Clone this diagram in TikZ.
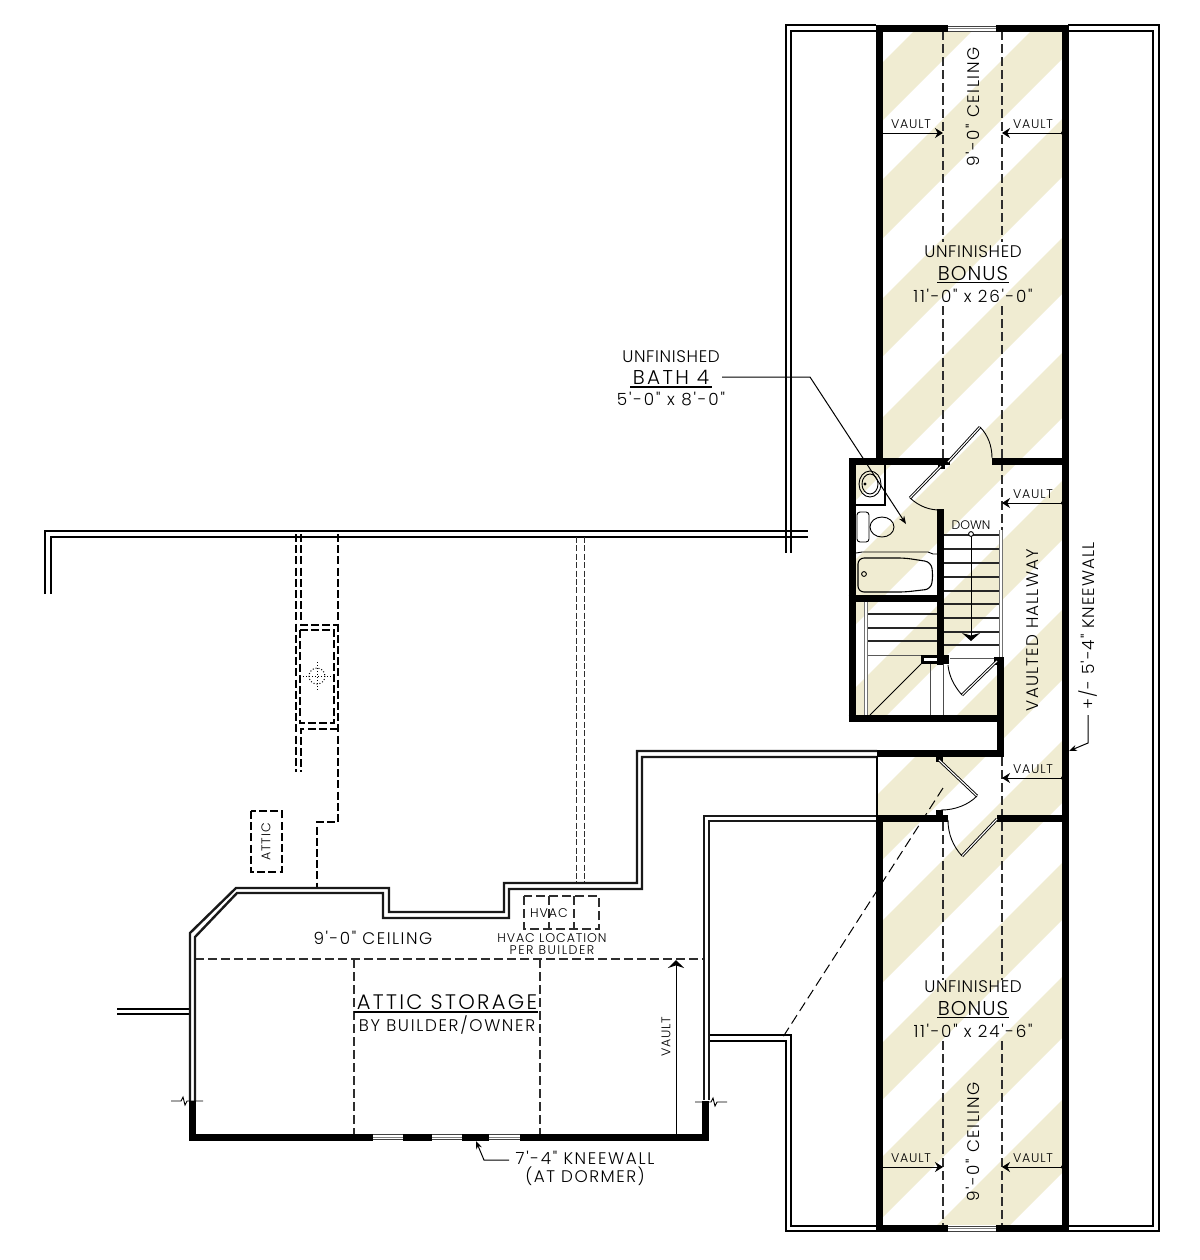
\documentclass[tikz,border=0pt]{standalone}
\usepackage{fontspec}
\usetikzlibrary{arrows.meta}
\newfontfamily\lblfont{Poppins}[UprightFont=* Light]
\definecolor{cream}{HTML}{F0ECD2}
\definecolor{dashc}{HTML}{2E2E2E}
\newcommand{\lbl}[2]{\lblfont\fontsize{#1}{#1}\selectfont\addfontfeature{LetterSpace=#2}}
\tikzset{
 wall/.style={line width=3.5pt,black,line join=miter},
 dwall/.style={line width=1.2pt,black!90,line join=miter},
 roofline/.style={line width=1.15pt,black,line join=miter},
 dashln/.style={line width=.7pt,dashc,dash pattern=on 4.5pt off 2pt},
 diagdash/.style={line width=.5pt,black,dash pattern=on 5pt off 2.5pt},
 heavydash/.style={line width=1.25pt,black,dash pattern=on 4pt off 1.6pt},
 thindbl/.style={line width=.45pt,dashc,dash pattern=on 3pt off 1.2pt},
 dimln/.style={line width=.5pt,black,-{Stealth[length=4pt,width=5pt]}},
 leaf/.style={double=white,double distance=.55pt,line width=.45pt,black},
 rail/.style={double=white,double distance=.8pt,line width=.4pt,black!55},
 fine/.style={line width=.45pt,black},
 tread/.style={line width=.55pt,black!85},
 blk/.style={fill=black,draw=none},
 tx/.style 2 args={inner sep=0pt,font=\lbl{#1}{#2}},
 ul/.style={line width=.55pt,black},
}
\newcommand{\vaultarr}[4]{% name, x1, x2, y
 \coordinate (#1a) at (#2,#4); \coordinate (#1b) at (#3,#4);
 \draw[dimln] (#1a) -- (#1b); \fill (#1a) circle (1pt);}
\newcommand{\winh}[3]{% x1 x2 y
 \fill[white] (#1,#3-3.5) rectangle (#2,#3+3.5);
 \draw[line width=.45pt,black!75] (#1,#3-2.5) -- (#2,#3-2.5) (#1,#3+2.5) -- (#2,#3+2.5);
 \draw[line width=.3pt,black!50] (#1,#3) -- (#2,#3);}
\begin{document}
\begin{tikzpicture}[x=.5pt,y=-.5pt]
\useasboundingbox (0,0) rectangle (1200,1260);
\fill[white] (0,0) rectangle (1200,1260);
% ---- stripes
\begin{scope}
 \clip (883,31) -- (1062,31) -- (1062,1225) -- (883,1225) -- (883,815) -- (877,815) -- (877,757) -- (1004,757) -- (1004,715) -- (852,715) -- (852,461) -- (883,461) -- cycle;
 \foreach \a/\b in {945/1003,1062/1121,1181/1239,1300/1356,1415/1480,1543/1602,1672/1742,1803/1865,1925/1982,2039/2100,2162/2235}
  \fill[cream] (800,{\a-800}) -- (1100,{\a-1100}) -- (1100,{\b-1100}) -- (800,{\b-800}) -- cycle;
\end{scope}
% ---- roof lines
\draw[roofline] (876,25) -- (786,25) -- (786,553);
\draw[roofline] (876,31) -- (791,31) -- (791,553);
\draw[roofline] (1068,25) -- (1159,25) -- (1159,1231) -- (1068,1231);
\draw[roofline] (1068,31) -- (1153,31) -- (1153,1226) -- (1068,1226);
\draw[roofline] (45,594) -- (45,531) -- (808,531);
\draw[roofline] (51,594) -- (51,537) -- (808,537);
\draw[roofline] (708,1035) -- (791,1035) -- (791,1226) -- (880,1226);
\draw[roofline] (708,1041) -- (786,1041) -- (786,1231) -- (880,1231);
\draw[roofline] (117,1009) -- (190,1009);
\draw[roofline] (117,1014) -- (190,1014);
% ---- dashed structure, upper left
\draw[heavydash] (296,534) -- (296,772);
\draw[heavydash] (301,534) -- (301,625) -- (338,625);
\draw[heavydash] (338,534) -- (338,822) -- (317,822) -- (317,887);
\draw[heavydash] (300,630) rectangle (334,723);
\draw[heavydash] (338,729) -- (301,729) -- (301,772);
\draw[line width=.5pt,densely dotted] (317,676) circle (8);
\draw[line width=.5pt,densely dotted] (303,676) -- (331,676) (317,662) -- (317,690);
\draw[heavydash] (251,811) rectangle (282,872);
\node[tx={6.3}{8},rotate=90] (atticbox) at (266,842) {ATTIC};
\draw[thindbl] (576,537) -- (576,883);
\draw[thindbl] (584,537) -- (584,883);
% ---- dashed ceiling lines
\draw[dashln] (943,31) -- (943,242) (943,306) -- (943,458);
\draw[dashln] (1002,31) -- (1002,242) (1002,306) -- (1002,530);
\draw[dashln] (1002,757) -- (1002,980) (1002,1041) -- (1002,1225);
\draw[dashln] (943,822) -- (943,980) (943,1041) -- (943,1225);
\draw[dashln] (195,959) -- (703,959);
\draw[dashln] (354,959) -- (354,1134);
\draw[dashln] (540,959) -- (540,1134);
\draw[diagdash] (943,788) -- (781,1040);
% ---- attic walls
\draw[dwall] (190,1101) -- (190,933) -- (236,888) -- (389,888) -- (389,912) -- (504,912) -- (504,883) -- (637,883) -- (637,751) -- (877,751);
\draw[dwall] (195,1101) -- (195,937) -- (237,893) -- (383,893) -- (383,918) -- (509,918) -- (509,889) -- (642,889) -- (642,757) -- (877,757);
\draw[dwall] (877,816) -- (704,816) -- (704,1100);
\draw[dwall] (877,821) -- (709,821) -- (709,1100);
\draw[wall] (192.5,1101) -- (192.5,1137) -- (705.5,1137) -- (705.5,1101);
\winh{373}{403}{1137}\winh{432}{462}{1137}\winh{489}{520}{1137}
\draw[fine] (171,1101) -- (181,1101) -- (183,1097) -- (185,1105) -- (187,1101) -- (203,1101);
\draw[fine] (695,1102) -- (711,1102) -- (713,1098) -- (715,1106) -- (717,1102) -- (727,1102);
% HVAC
\draw[dashln,line width=.6pt] (524,896) rectangle (599,929);
\draw[dashln,line width=.6pt] (549,896) -- (549,929) (574,896) -- (574,929);
\node[tx={6.3}{8}] (hvac) at (549,913) {HVAC};
\node[tx={6.3}{7}] (hvacloc) at (552,938) {HVAC LOCATION};
\node[tx={6.3}{12}] (hvacper) at (552,950) {PER BUILDER};
% ---- main walls
\draw[wall] (879.5,25) -- (879.5,458);
\draw[wall] (1065,25) -- (1065,1232);
\draw[wall] (876,28.5) -- (948,28.5);
\draw[wall] (996,28.5) -- (1068,28.5);
\winh{948}{996}{28.5}
\draw[wall] (876,1228.5) -- (948,1228.5);
\draw[wall] (996,1228.5) -- (1068,1228.5);
\winh{948}{996}{1228.5}
\draw[wall] (879.5,815) -- (879.5,1232);
\draw[wall] (877,818.5) -- (948,818.5);
\draw[wall] (997,818.5) -- (1065,818.5);
% bath & stairs
\draw[wall] (950,461.5) -- (848.5,461.5);
\draw[wall] (992,461.5) -- (1065,461.5);
\draw[wall] (852,458) -- (852,722);
\draw[wall] (848.5,718.5) -- (1004,718.5);
\draw[wall] (1000.5,657) -- (1000.5,757);
\draw[wall] (877,753) -- (1004,753);
\draw[line width=.7pt,black] (877,756) -- (877,815);
\draw[wall] (940.5,509) -- (940.5,665);
\draw[wall] (848.5,598) -- (944,598);
\draw[line width=1pt] (856,505) -- (885,505) -- (885,465);
% sink
\draw[fine] (870,484) ellipse (11 and 13);
\draw[fine] (870,484) ellipse (8 and 10);
\fill (865,484) circle (.8pt);
% toilet
\draw[fine,rounded corners=1.5pt] (857,512) rectangle (869,542);
\draw[fine] (882,527) ellipse (12 and 10);
% tub
\draw[fine] (856,553) -- (862,552) -- (928,552) -- (933,554) -- (938,554);
\draw[fine,line width=.55pt,rounded corners=3pt] (858,558) -- (905,558) -- (931,562) -- (933,575) -- (931,589) -- (905,592) -- (858,592) -- cycle;
\draw[fine] (864,574) circle (1.2pt);
% doors
\fill[blk] (938,462) rectangle (945,469);
\draw[leaf] (941,466) -- (910,498);
\draw[fine] (910,498) .. controls (920,507) and (930,510) .. (940,510);
\draw[leaf] (948,462) -- (980,427);
\draw[fine] (980,427) .. controls (988,435) and (992,446) .. (992,458);
\fill[blk] (994,657) rectangle (1001,665);
\draw[leaf] (997,661) -- (962,695);
\draw[fine] (962,695) .. controls (954,686) and (949,676) .. (948,665);
\fill[blk] (936,755) rectangle (943,762);
\fill[blk] (936,810) rectangle (943,816);
\draw[leaf] (939,760) -- (977,796);
\draw[fine] (977,796) .. controls (968,805) and (955,810) .. (941,810);
\draw[leaf] (997,819) -- (962,856);
\draw[fine] (962,856) .. controls (953,846) and (948,834) .. (948,820);
% stairs right
\foreach \y in {535,549,563,577,591,604,618,632,645} \draw[tread] (944,\y) -- (1000,\y);
\draw[line width=.45pt,black!65] (950,658) -- (994,658);
\draw[rail] (1001,530) -- (1001,657);
\node[tx={6.2}{0}] (down) at (971,525) {DOWN};
\coordinate (da) at (971,534); \coordinate (db) at (971,641);
\draw[line width=.5pt,-{Stealth[length=4pt,width=9pt]}] (da) -- (db);
\draw[fine,fill=white] (da) circle (1.2pt);
% stairs left
\foreach \y in {614,628,641} \draw[tread] (868,\y) -- (937,\y);
\draw[line width=.45pt,black!65] (866,655) -- (922,655);
\draw[rail] (866,602) -- (866,715);
\draw[line width=.5pt] (870,715) -- (922,663);
\draw[line width=.45pt,black!70] (930,664) -- (930,715) (943,664) -- (943,715);
\fill[blk] (921,655) rectangle (949,664);
\fill[white] (924,658) rectangle (937,661);
% vault arrows
\vaultarr{v1}{881}{943}{133}
\vaultarr{v2}{1063}{1002}{133}
\vaultarr{v3}{1063}{1002}{503}
\vaultarr{v4}{1063}{1002}{778}
\vaultarr{v5}{881}{943}{1167}
\vaultarr{v6}{1063}{1002}{1167}
\coordinate (v7a) at (676,1136); \coordinate (v7b) at (676,960);
\draw[line width=.5pt,-{Stealth[length=4pt,width=8pt]}] (v7a) -- (v7b); \fill (v7a) circle (1pt);
\node[tx={6.3}{6}] (t1) at (911,124) {VAULT};
\node[tx={6.3}{6}] (t2) at (1033,124) {VAULT};
\node[tx={6.3}{6}] (t3) at (1033,494) {VAULT};
\node[tx={6.3}{6}] (t4) at (1033,769) {VAULT};
\node[tx={6.3}{6}] (t5) at (911,1158) {VAULT};
\node[tx={6.3}{6}] (t6) at (1033,1158) {VAULT};
\node[tx={6.3}{6},rotate=90] (t7) at (666,1037) {VAULT};
% labels
\node[tx={8.4}{9},rotate=90] (c1) at (973,107) {9'-0" CEILING};
\node[tx={8.4}{9},rotate=90] (c2) at (973,1142) {9'-0" CEILING};
\node[tx={8.4}{4}] (b1a) at (973,252) {UNFINISHED};
\node[tx={10}{5}] (b1b) at (973,273) {BONUS};
\draw[ul] (937,282.5) -- (1009,282.5);
\node[tx={8.4}{10}] (b1c) at (973,296) {11'-0" x 26'-0"};
\node[tx={8.4}{4}] (b2a) at (973,987) {UNFINISHED};
\node[tx={10}{5}] (b2b) at (973,1008) {BONUS};
\draw[ul] (937,1017.5) -- (1009,1017.5);
\node[tx={8.4}{10}] (b2c) at (973,1031) {11'-0" x 24'-6"};
\node[tx={8.4}{4}] (ba) at (671,357) {UNFINISHED};
\node[tx={10}{12}] (bb) at (671,377) {BATH 4};
\draw[ul] (630,387) -- (712,387);
\node[tx={8.4}{11}] (bc) at (671,399) {5'-0" x 8'-0"};
\coordinate (bl1) at (722,377); \coordinate (bl2) at (810,377); \coordinate (bl3) at (906,524);
\draw[line width=.5pt,-{Stealth[length=4pt,width=3pt]}] (bl1) -- (bl2) -- (bl3);
\node[tx={8.4}{7},rotate=90] (hall) at (1033,630) {VAULTED HALLWAY};
\node[tx={8.4}{6},rotate=90] (knee) at (1088,626) {+/- 5'-4" KNEEWALL};
\coordinate (k1) at (1088,715); \coordinate (k2) at (1088,743); \coordinate (k3) at (1069,751);
\draw[line width=.5pt,-{Stealth[length=4pt,width=3pt]}] (k1) -- (k2) -- (k3);
\node[tx={8.4}{9}] (ceil) at (373,938) {9'-0" CEILING};
\node[tx={10.5}{11}] (as) at (447,1002) {ATTIC STORAGE};
\draw[ul] (354,1012) -- (538,1012);
\node[tx={8.4}{10}] (by) at (447,1025) {BY BUILDER/OWNER};
\node[tx={8.4}{10}] (kw) at (585,1158) {7'-4" KNEEWALL};
\node[tx={8.4}{9}] (dorm) at (585,1176) {(AT DORMER)};
\coordinate (w1) at (509,1160); \coordinate (w2) at (484,1160); \coordinate (w3) at (476,1141);
\draw[line width=.5pt,-{Stealth[length=4pt,width=3pt]}] (w1) -- (w2) -- (w3);
\end{tikzpicture}
\end{document}
